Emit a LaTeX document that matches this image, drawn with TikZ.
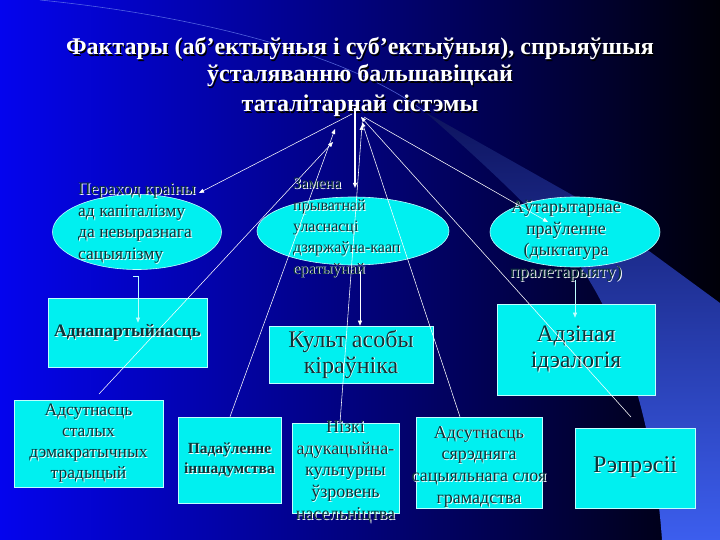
\documentclass[tikz,border=0pt]{standalone}
\usepackage{fontspec}
\setmainfont{Liberation Serif}
\usetikzlibrary{shapes.geometric,arrows.meta}
\definecolor{bgL}{RGB}{4,4,238}
\definecolor{bgM}{RGB}{0,0,125}
\definecolor{bgR}{RGB}{0,0,8}
\definecolor{swT}{RGB}{14,20,95}
\definecolor{swM}{RGB}{40,66,196}
\definecolor{swB}{RGB}{60,94,238}
\definecolor{cyfill}{RGB}{0,240,240}
\definecolor{cyedge}{RGB}{190,255,255}
\definecolor{ink}{RGB}{12,52,56}
\definecolor{arccol}{RGB}{100,120,235}
\newcommand\ws[1]{\leavevmode\rlap{\kern0.9pt\raisebox{-0.9pt}{\color{white}#1}}#1}
\newcommand\ks[1]{\leavevmode\rlap{\kern1.2pt\raisebox{-1.2pt}{\color{black}#1}}#1}
\begin{document}
\begin{tikzpicture}[x=1pt,y=-1pt,
  titletext/.style={text=white, font=\fontsize{24}{25}\selectfont\bfseries, inner sep=0, anchor=base},
  oval/.style={ellipse, fill=cyfill, draw=cyedge, line width=0.6pt, inner sep=0},
  panel/.style={rectangle, fill=cyfill, draw=cyedge, line width=0.6pt, inner sep=0, text=ink, align=center},
  txtbox/.style={text=ink, inner sep=0},
  link/.style={draw=white, line width=0.55pt, -{Triangle[length=5pt,width=4pt]}},
  feed/.style={draw=cyedge, line width=0.55pt, -{Triangle[length=5pt,width=4pt]}},
]
\useasboundingbox (0,0) rectangle (720,540);
% background
\shade[left color=bgL, middle color=bgM, right color=bgR] (0,0) rectangle (720,540);
\shade[top color=swT, middle color=swM, bottom color=swB] (425,112) -- (574,196) -- (720,303) -- (720,540) -- (662,540)
  .. controls (655,440) and (630,340) .. (580,266) .. controls (545,220) and (480,160) .. (425,112) -- cycle;
\draw[arccol, line width=0.6pt, opacity=0.8] (40,0) .. controls (220,18) and (360,62) .. (425,112);

% title
\node[titletext] (title1) at (360,55) {\ks{Фактары (аб’ектыўныя і суб’ектыўныя), спрыяўшыя}};
\node[titletext] (title2) at (360,82) {\ks{ўсталяванню бальшавіцкай}};
\node[titletext] (title3) at (360,112) {\ks{таталітарнай сістэмы}};

% ellipses
\node[oval, minimum width=169, minimum height=75] (e1) at (137,232) {};
\node[oval, minimum width=192, minimum height=68] (e2) at (353,231) {};
\node[oval, minimum width=170, minimum height=70] (e3) at (575,232) {};
\node[txtbox, align=left, anchor=north west, font=\fontsize{17.5}{21.6}\selectfont] (e1t) at (78,183)
  {\ws{Пераход краіны}\\\ws{ад капіталізму}\\\ws{да невыразнага}\\\ws{сацыялізму}};
\node[txtbox, align=left, anchor=north west, font=\fontsize{16}{21.3}\selectfont] (e2t) at (293,178)
  {\ws{Замена}\\\ws{прыватнай}\\\ws{уласнасці}\\\ws{дзяржаўна-каап}\\\ws{ератыўнай}};
\node[txtbox, align=center, anchor=north, font=\fontsize{18}{21.7}\selectfont] (e3t) at (566,200)
  {\ws{Аўтарытарнае}\\\ws{праўленне}\\\ws{(дыктатура}\\\ws{пралетарыяту)}};

% boxes
\node[panel, minimum width=159, minimum height=69, font=\fontsize{17.5}{20}\selectfont\bfseries] (b1) at (127.5,332.5) {\ws{Аднапартыйнасць}};
\node[panel, minimum width=164, minimum height=57, font=\fontsize{24}{26}\selectfont] (b2) at (351,354.5) {\ws{Культ асобы}\\\ws{кіраўніка}};
\node[panel, minimum width=158, minimum height=91, font=\fontsize{23.5}{26}\selectfont] (b3) at (576,349.5) {\ws{Адзіная}\\\ws{ідэалогія}};
\node[panel, minimum width=149, minimum height=87, font=\fontsize{17.5}{21}\selectfont] (b4) at (88.5,443.5)
  {\ws{Адсутнасць}\\\ws{сталых}\\\ws{дэмакратычных}\\\ws{традыцый}};
\node[panel, minimum width=103, minimum height=86, font=\fontsize{15.5}{20}\selectfont\bfseries] (b5) at (229.5,460)
  {\ws{Падаўленне}\\\ws{іншадумства}};
\node[panel, minimum width=107, minimum height=90] (b6) at (345.5,468) {};
\node[txtbox, align=center, font=\fontsize{18}{21.7}\selectfont] (b6t) at (345.5,472)
  {\ws{Нізкі}\\\ws{адукацыйна-}\\\ws{культурны}\\\ws{ўзровень}\\\ws{насельніцтва}};
\node[panel, minimum width=126, minimum height=91] (b7) at (479,462.5) {};
\node[txtbox, align=center, font=\fontsize{18}{21.7}\selectfont] (b7t) at (479,467)
  {\ws{Адсутнасць}\\\ws{сярэдняга}\\\ws{сацыяльнага слоя}\\\ws{грамадства}};
\node[panel, minimum width=120, minimum height=80, font=\fontsize{24}{26}\selectfont] (b8) at (635,468) {\ws{Рэпрэсіі}};

% connection points
\coordinate (tL) at (352,114);
\coordinate (tR) at (364,117);
\coordinate (v1) at (355,108);
\coordinate (v2) at (355,188);
\coordinate (a1) at (199,193);
\coordinate (a3) at (548,222);
\coordinate (up1) at (333,142);
\coordinate (up2) at (335,129);
\coordinate (up3) at (362,125);
\coordinate (up4) at (362,122);
\coordinate (up5) at (361,117);
\coordinate (f1) at (99,394);
\coordinate (f5) at (631,417);
\coordinate (k1a) at (133,276);
\coordinate (k1b) at (138,276);

% connectors
\draw[link] (tL) -- (a1);
\draw[link, line width=1.4pt] (v1) -- (v2);
\draw[link] (tR) -- (a3);
\draw[feed] (k1a) -- (k1b) -- ([xshift=10.5pt,yshift=-25pt]b1.north);
\draw[link] ([xshift=7pt,yshift=-7pt]e2.south) -- ([xshift=9pt]b2.north);
\draw[feed] ([yshift=-13pt]e3.south) -- ([xshift=-1pt,yshift=-14pt]b3.north);
\draw[link] (f1) -- (up1);
\draw[link] ([xshift=0.5pt]b5.north) -- (up2);
\draw[link] ([xshift=-5.5pt]b6.north) -- (up3);
\draw[link] ([xshift=-19pt]b7.north) -- (up4);
\draw[link] (f5) -- (up5);
\end{tikzpicture}
\end{document}
